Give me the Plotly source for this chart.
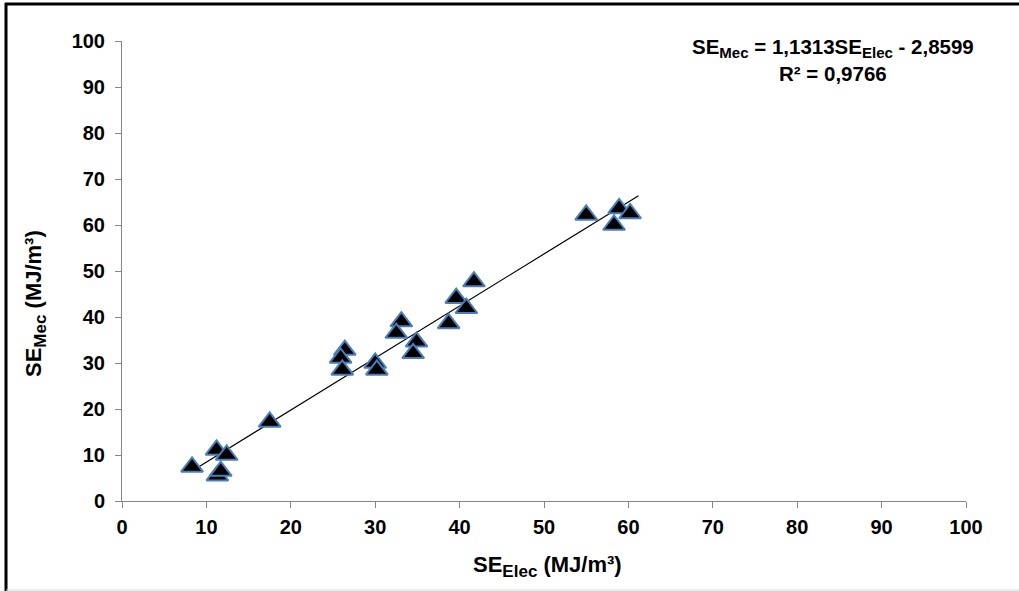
import plotly.graph_objects as go

# Data (SE_Elec, SE_Mec)
se_elec = [8.3, 11.2, 12.4, 11.3, 11.7, 17.5, 26.4, 25.9, 26.1, 30.0, 30.2,
           33.1, 32.5, 34.9, 34.5, 38.7, 39.6, 40.8, 41.7, 55.0, 58.9, 60.2, 58.3]
se_mec = [7.4, 11.1, 10.0, 5.5, 6.5, 17.2, 32.8, 31.1, 28.5, 30.0, 28.5,
          39.0, 36.5, 34.6, 32.1, 38.6, 44.1, 41.9, 47.7, 62.2, 63.6, 62.5, 60.0]

slope = 1.1313
intercept = -2.8599
trend_x = [8.2, 61.2]
trend_y = [slope * v + intercept for v in trend_x]

tick_vals = [0, 10, 20, 30, 40, 50, 60, 70, 80, 90, 100]

FONT = "Arial, Liberation Sans, sans-serif"
AXIS_COLOR = "#868686"

fig = go.Figure()
fig.add_trace(go.Scatter(x=trend_x, y=trend_y, mode="lines",
                         line=dict(color="black", width=1.2),
                         showlegend=False, hoverinfo="skip"))
fig.add_trace(go.Scatter(x=se_elec, y=se_mec, mode="markers",
                         marker=dict(symbol="triangle-up", size=19, color="black",
                                     line=dict(color="#4a7ebb", width=2)),
                         showlegend=False))

L, R, T, B = 122, 53, 41, 90
W, H = 1019, 591
pw, ph = W - L - R, H - T - B

def px_to_paper_x(px):
    return (px - L) / pw

def py_to_paper_y(py):
    return (H - B - py) / ph

def sub(t, size):
    return f"<sub><span style='font-size:{size}px'>{t}</span></sub>"

fig.update_layout(
    width=W, height=H,
    margin=dict(l=L, r=R, t=T, b=B, pad=0),
    paper_bgcolor="white", plot_bgcolor="white",
    font=dict(family=FONT, color="black"),
    xaxis=dict(range=[0, 100], tickvals=tick_vals, showgrid=False, zeroline=False,
               showline=True, linecolor=AXIS_COLOR, linewidth=1,
               ticks="outside", ticklen=6, tickcolor=AXIS_COLOR, ticklabelstandoff=2,
               tickfont=dict(size=20, family=FONT, color="black", weight="bold")),
    yaxis=dict(range=[0, 100], tickvals=tick_vals, showgrid=False, zeroline=False,
               showline=True, linecolor=AXIS_COLOR, linewidth=1,
               ticks="outside", ticklen=6, tickcolor=AXIS_COLOR, ticklabelstandoff=6,
               tickfont=dict(size=20, family=FONT, color="black", weight="bold")),
    shapes=[
        dict(type="line", xref="paper", yref="paper",
             x0=px_to_paper_x(6), x1=px_to_paper_x(6),
             y0=py_to_paper_y(3), y1=py_to_paper_y(592),
             line=dict(color="black", width=3)),
        dict(type="line", xref="paper", yref="paper",
             x0=px_to_paper_x(5), x1=px_to_paper_x(1020),
             y0=py_to_paper_y(4), y1=py_to_paper_y(4),
             line=dict(color="black", width=3)),
        dict(type="line", xref="paper", yref="paper",
             x0=px_to_paper_x(6), x1=px_to_paper_x(1020),
             y0=py_to_paper_y(590), y1=py_to_paper_y(590),
             line=dict(color="#d9d9d9", width=1)),
    ],
    annotations=[
        dict(text="<b>SE" + sub("Elec", 17) + " (MJ/m³)</b>", xref="paper", yref="paper",
             x=px_to_paper_x(547), y=py_to_paper_y(566), showarrow=False,
             xanchor="center", yanchor="middle",
             font=dict(size=22, family=FONT, color="black")),
        dict(text="<b>SE" + sub("Mec", 17) + " (MJ/m³)</b>", xref="paper", yref="paper",
             x=px_to_paper_x(36), y=py_to_paper_y(304), showarrow=False,
             textangle=-90, xanchor="center", yanchor="middle",
             font=dict(size=22, family=FONT, color="black")),
        dict(text="<b>SE" + sub("Mec", 15) + " = 1,1313SE" + sub("Elec", 15)
                  + " - 2,8599</b><br><b>R² = 0,9766</b>",
             xref="paper", yref="paper",
             x=px_to_paper_x(833), y=py_to_paper_y(60), showarrow=False,
             xanchor="center", yanchor="middle", align="center",
             font=dict(size=20.5, family=FONT, color="black")),
    ],
)

fig.write_html("out.html")
